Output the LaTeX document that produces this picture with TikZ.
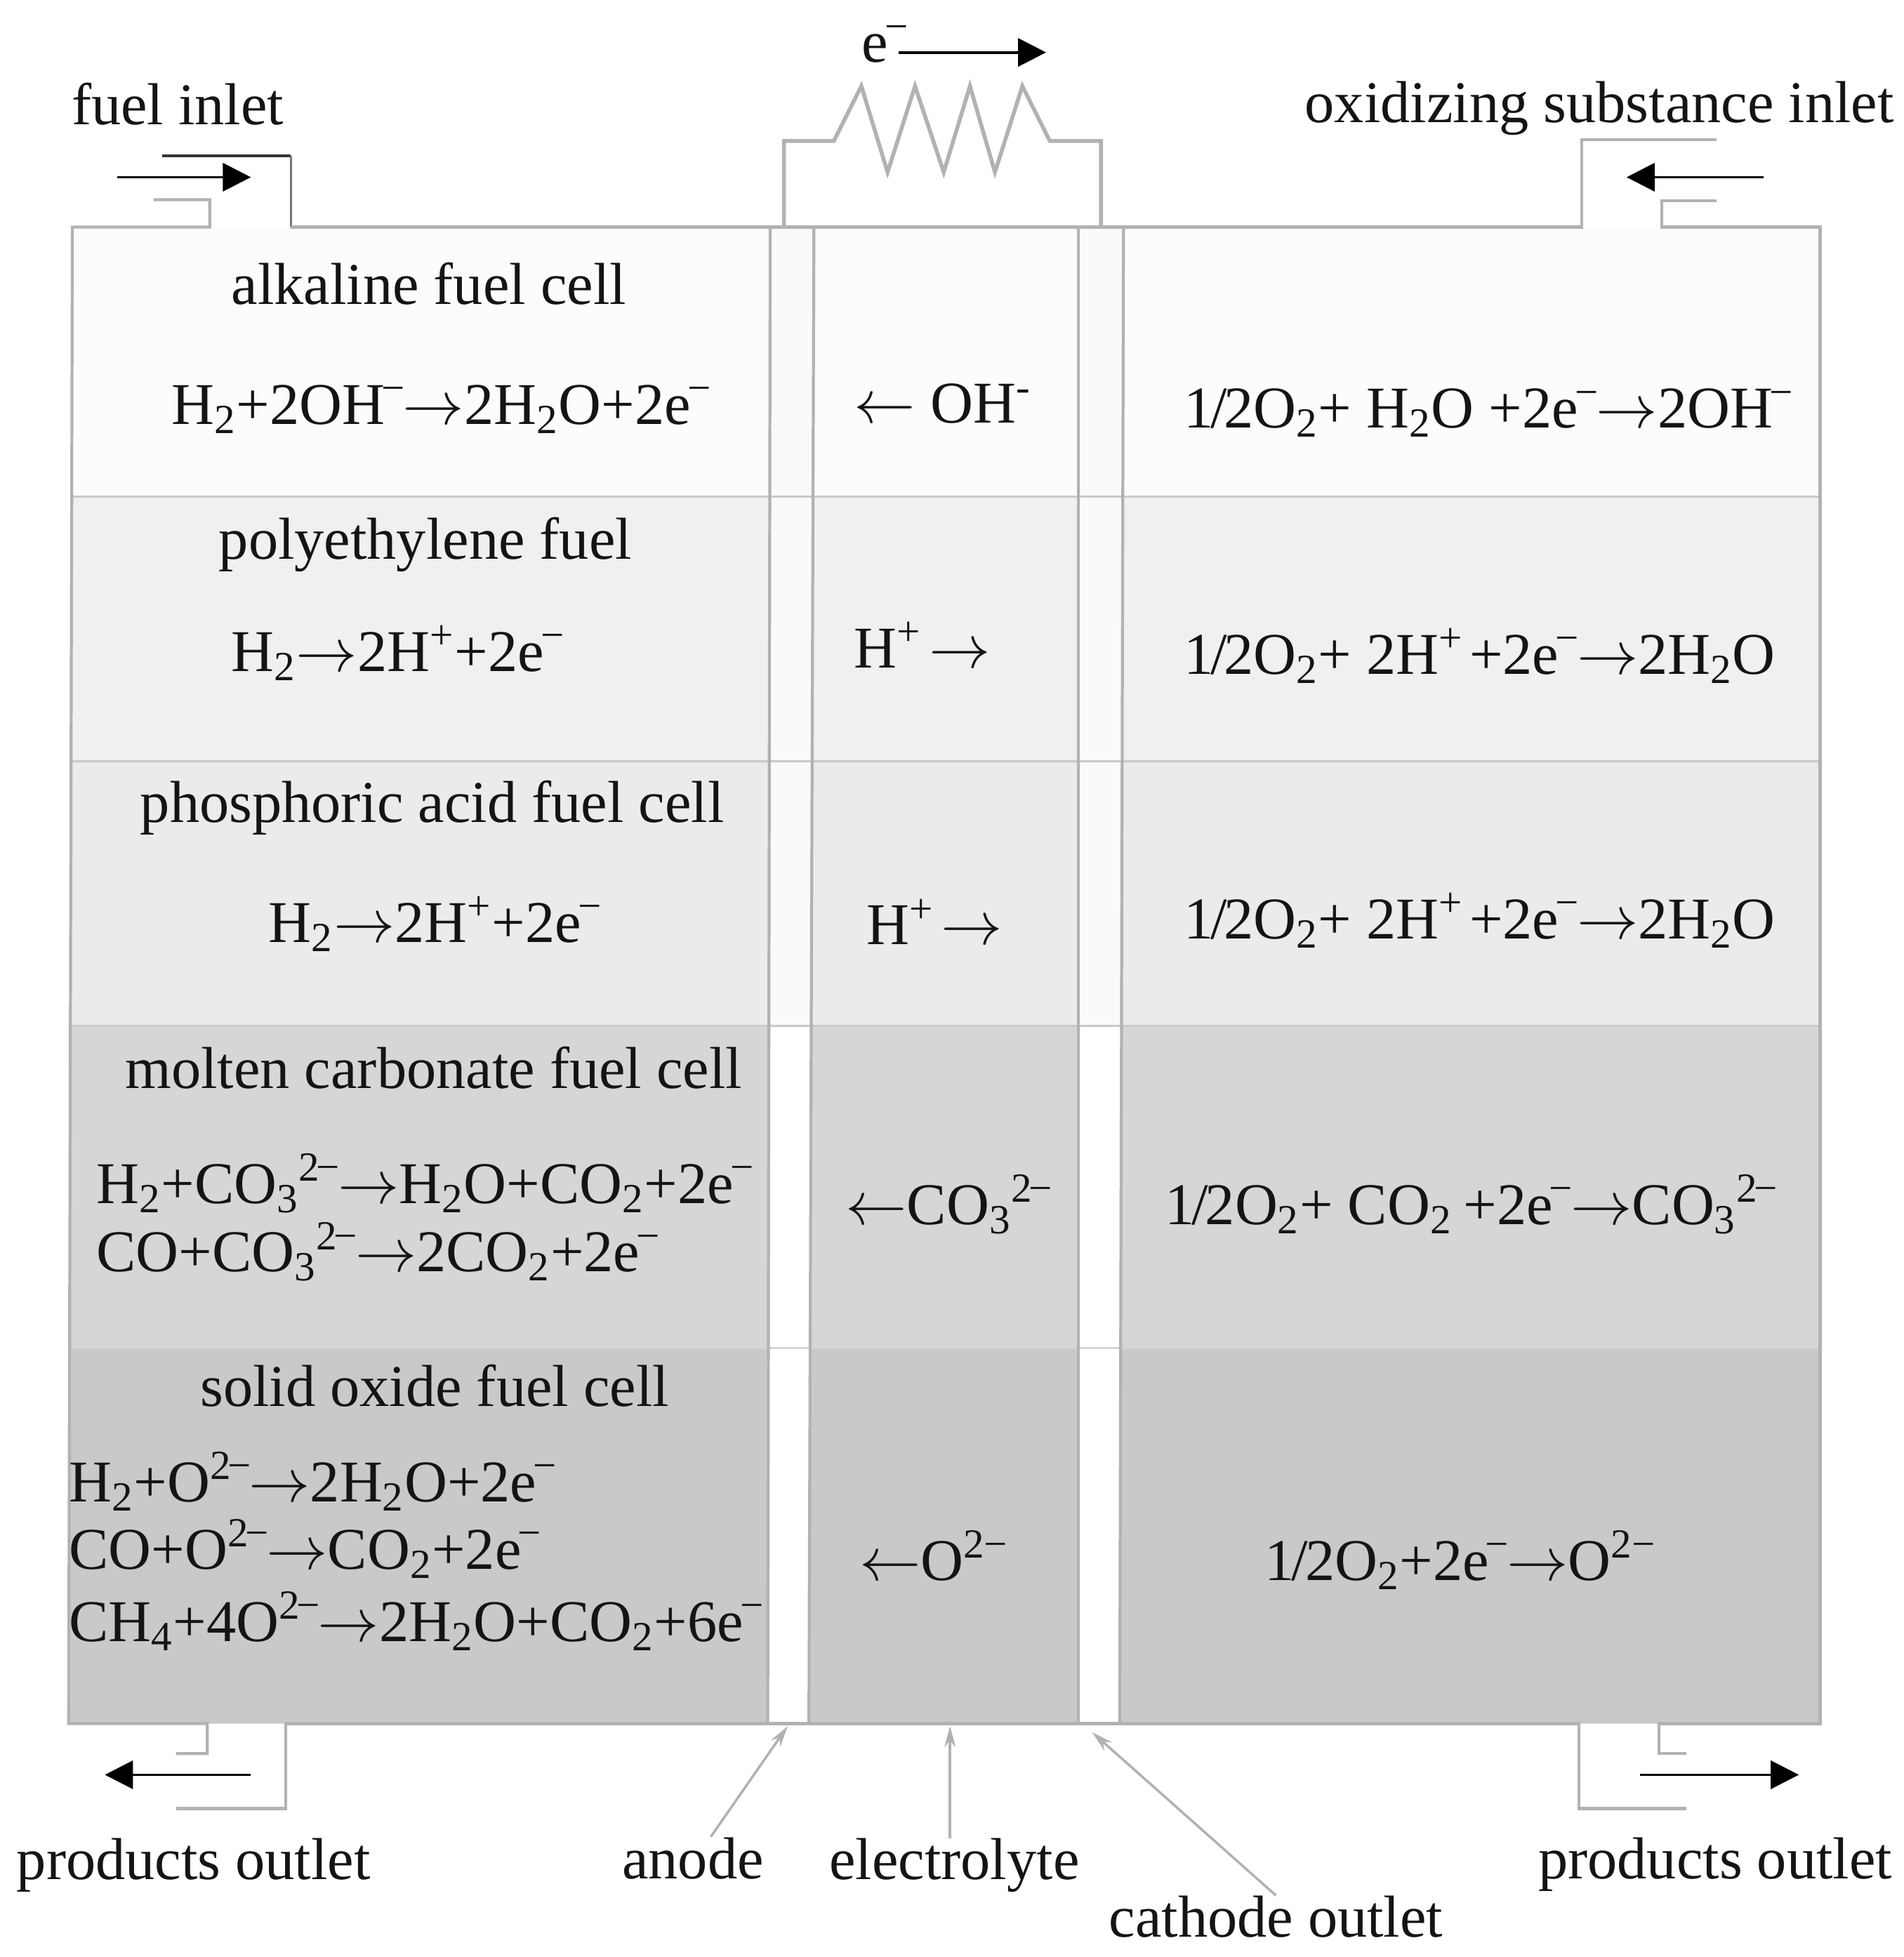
\documentclass[tikz,border=0pt]{standalone}
\usepackage{fontspec}
\setmainfont{Liberation Serif}
\usetikzlibrary{arrows.meta}

\newcommand{\sbs}[1]{\textsubscript{#1}}
\newcommand{\sps}[1]{\textsuperscript{#1}}
\newcommand{\minus}{\textsuperscript{\kern-.08em−\kern-.08em}}
\newcommand{\twomin}{\textsuperscript{2\kern-.08em−\kern-.08em}}
\newcommand{\elec}{e\minus}
\newcommand{\halfox}{1\kern-.05em/\kern-.05em2O\sbs{2}}
\newcommand{\rarr}{$\rightarrow$}
\newcommand{\larr}{$\leftarrow$}

\definecolor{wall}{HTML}{B2B2B2}
\definecolor{rowA}{HTML}{FCFCFC}
\definecolor{rowB}{HTML}{F0F0F0}
\definecolor{rowC}{HTML}{EBEBEB}
\definecolor{rowD}{HTML}{D6D6D6}
\definecolor{rowE}{HTML}{C9C9C9}

\tikzset{
  txt/.style={anchor=base west,inner sep=0pt,font=\fontsize{24}{28}\selectfont,text=black!92},
  wallline/.style={draw=wall,line width=1.2pt,line join=miter},
  rowline/.style={draw=wall!70,line width=1pt},
  flow/.style={draw=black,line width=1.1pt,-{Triangle[length=4mm,width=4mm]}},
  leader/.style={draw=wall,line width=1pt,-{Stealth[length=3mm,width=1.6mm]}},
}

\begin{document}
\begin{tikzpicture}[x=0.017784cm,y=-0.017784cm]
\useasboundingbox (0,0) rectangle (1525,1568);

% bands
\fill[rowA] (58,182)--(1458,182)--(1458,398)--(57.5,398)--cycle;
\fill[rowB] (57.5,398)--(1458,398)--(1458,610)--(57,610)--cycle;
\fill[rowC] (57,610)--(1458,610)--(1458,822)--(56.5,822)--cycle;
\fill[rowD] (56.5,822)--(1458,822)--(1458,1080)--(56,1080)--cycle;
\fill[rowE] (56,1080)--(1458,1080)--(1458,1381)--(55,1381)--cycle;

% electrodes
\fill[white!98!black] (617,182)--(652,182)--(650,822)--(616,822)--cycle;
\fill[white!98!black] (864,182)--(900,182)--(899,822)--(864,822)--cycle;
\fill[white] (616,822)--(650,822)--(648,1381)--(615,1381)--cycle;
\fill[white] (864,822)--(899,822)--(897,1381)--(864,1381)--cycle;

\draw[rowline] (57.5,398)--(1458,398);
\draw[rowline] (57,610)--(1458,610);
\draw[rowline] (56.5,822)--(1458,822);
\draw[rowline,draw=rowE!80] (56,1080)--(1458,1080);

\draw[wallline] (617,182)--(615,1381);
\draw[wallline] (652,182)--(648,1381);
\draw[wallline] (864,182)--(864,1381);
\draw[wallline] (900,182)--(897,1381);

% casing with the pipes
\draw[wallline] (123,160)--(168,160)--(168,182)--(58,182)--(55,1381)--(166,1381)--(166,1405)--(141,1405);
\draw[draw=black!80,line width=1pt] (130,125)--(233,125);
\draw[wallline,draw=black!55,line width=1pt] (233,125)--(233,182);
\draw[wallline] (233,182)--(1267,182)--(1267,112)--(1375,112);
\draw[wallline] (1375,161)--(1331,161)--(1331,182)--(1458,182)--(1458,1381)--(1329,1381)--(1329,1405)--(1351,1405);
\draw[wallline] (141,1449)--(229,1449)--(229,1381)--(1265,1381)--(1265,1449)--(1351,1449);

% load
\draw[wallline,line width=1.6pt] (628,182)--(628,113)--(668,113)--(690,69)--(711,138)--(733,69)--(756,138)--(777,69)--(797,138)--(819,69)--(841,113)--(882,113)--(882,182);

% flows
\coordinate (fuelA) at (94,142);
\coordinate (fuelB) at (201,142);
\coordinate (oxA) at (1413,142);
\coordinate (oxB) at (1303,142);
\coordinate (prodA) at (201,1422);
\coordinate (prodB) at (84,1422);
\coordinate (prodC) at (1314,1422);
\coordinate (prodD) at (1441,1422);
\coordinate (elA) at (720,42);
\coordinate (elB) at (838,42);
\draw[flow] (fuelA)--(fuelB);
\draw[flow] (oxA)--(oxB);
\draw[flow] (prodA)--(prodB);
\draw[flow] (prodC)--(prodD);
\draw[flow] (elA)--(elB);

% outer labels
\node[txt] (elabel) at (690,50){\elec};
\node[txt] (fuelin) at (57,100){fuel inlet};
\node[txt] (oxin) at (1045,98){oxidizing substance inlet};
\node[txt] (prodL) at (13,1506){products outlet};
\node[txt] (anode) at (498,1505){anode};
\node[txt] (electrolyte) at (664,1506){electrolyte};
\node[txt] (cathode) at (888,1552){cathode outlet};
\node[txt] (prodR) at (1232,1505){products outlet};

\coordinate (anodetip) at (631,1383);
\coordinate (electip) at (761,1383);
\coordinate (cathtip) at (875,1388);
\draw[leader] (anode.50)--(anodetip);
\draw[leader] (electip |- electrolyte.north)--(electip);
\draw[leader] (cathode.north)--(cathtip);

% alkaline
\node[txt] (alk) at (185,244){alkaline fuel cell};
\node[txt] (alkL) at (137,340){H\sbs{2}+2OH\minus\rarr2H\sbs{2}O+2\elec};
\node[txt] (alkM) at (684,339){\larr\ OH\sps{-}};
\node[txt] (alkR) at (948,343){\halfox+ H\sbs{2}O +2\elec\rarr2OH\minus};

% polyethylene
\node[txt] (pem) at (175,448){polyethylene fuel};
\node[txt] (pemL) at (185,538){H\sbs{2}\rarr2H\sps{+}+2\elec};
\node[txt] (pemM) at (684,535){H\sps{+}\kern-.13em{} \rarr};
\node[txt] (pemR) at (948,540){\halfox+ 2H\sps{+}\kern-.15em{} +2\elec\rarr2H\sbs{2}O};

% phosphoric
\node[txt] (pho) at (112,659){phosphoric acid fuel cell};
\node[txt] (phoL) at (215,755){H\sbs{2}\rarr2H\sps{+}+2\elec};
\node[txt] (phoM) at (694,757){H\sps{+}\kern-.13em{} \rarr};
\node[txt] (phoR) at (948,752){\halfox+ 2H\sps{+}\kern-.15em{} +2\elec\rarr2H\sbs{2}O};

% molten carbonate
\node[txt] (mol) at (100,872){molten carbonate fuel cell};
\node[txt] (molLa) at (77,964){H\sbs{2}+CO\sbs{3}\twomin\rarr H\sbs{2}O+CO\sbs{2}+2\elec};
\node[txt] (molLb) at (77,1019){CO+CO\sbs{3}\twomin\rarr2CO\sbs{2}+2\elec};
\node[txt] (molM) at (677,981){\larr CO\sbs{3}\twomin};
\node[txt] (molR) at (933,981){\halfox+ CO\sbs{2}\kern-.06em{} +2\elec\rarr CO\sbs{3}\twomin};

% solid oxide
\node[txt] (sol) at (160,1127){solid oxide fuel cell};
\node[txt] (solLa) at (55,1203){H\sbs{2}+O\twomin\rarr2H\sbs{2}O+2\elec};
\node[txt] (solLb) at (55,1257){CO+O\twomin\rarr CO\sbs{2}+2\elec};
\node[txt] (solLc) at (55,1315){CH\sbs{4}+4O\twomin\rarr2H\sbs{2}O+CO\sbs{2}+6\elec};
\node[txt] (solM) at (688,1266){\larr O\sps{2−}};
\node[txt] (solR) at (1013,1266){\halfox+2\elec\rarr O\sps{2−}};
\end{tikzpicture}
\end{document}
